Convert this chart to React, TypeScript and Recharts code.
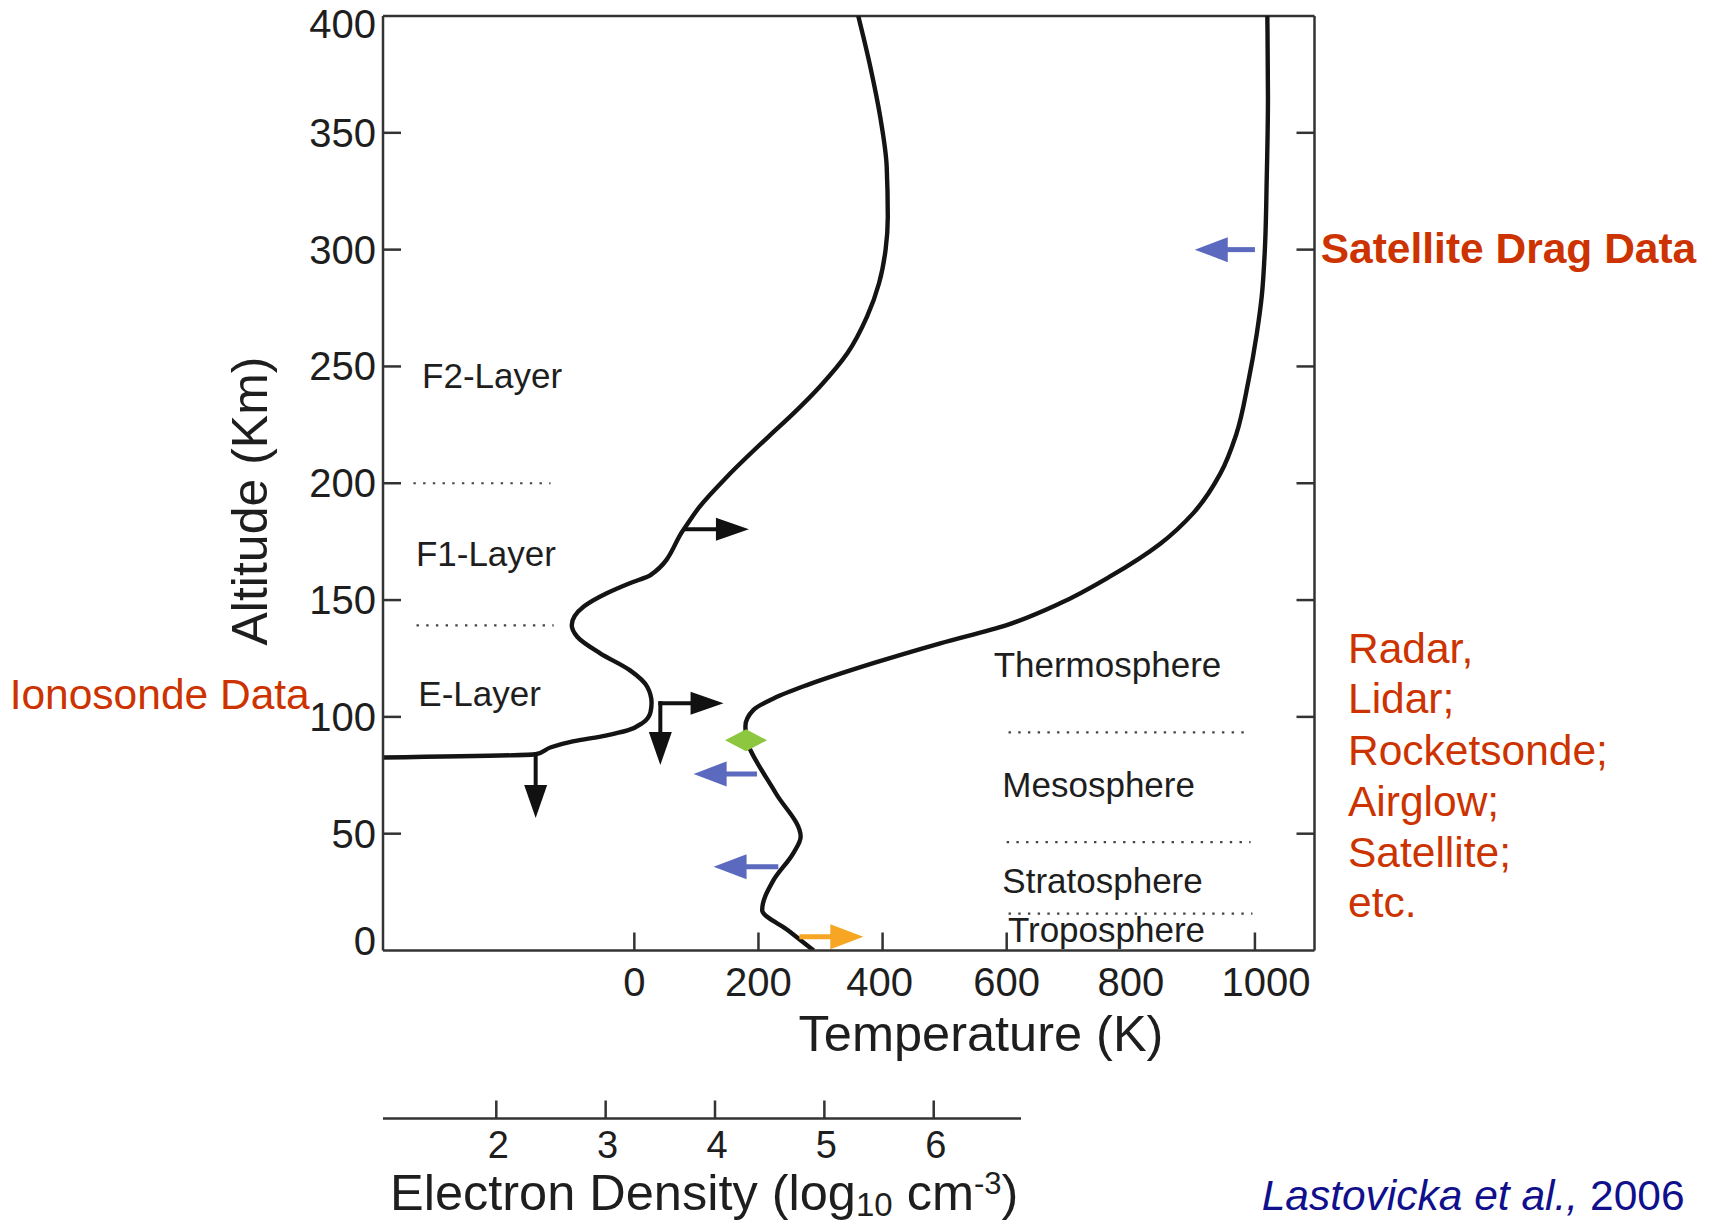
import React from 'react';
import { ComposedChart, Line, XAxis, YAxis, ReferenceLine, ReferenceDot } from 'recharts';

// ---- Temperature profile (K) vs altitude (km)
const temperatureK = [289, 248, 206, 224, 256, 268, 228, 187, 180, 179, 192, 225, 278, 385, 493, 600, 686, 766, 847, 900, 944, 970, 989, 1003, 1011, 1016, 1019, 1021, 1020];
const temperatureAltKm = [0, 8.6, 17.3, 30, 41.6, 48.7, 67.3, 85.8, 90, 96, 103, 108, 113.6, 123, 131.5, 139.3, 148.6, 160, 174, 187, 204, 221, 243, 264, 280, 300, 330, 365, 400];

// ---- Electron density profile (log10 cm^-3) vs altitude (km)
const densityLog = [0.964, 2.36, 2.5, 2.7, 3.0, 3.2, 3.34, 3.41, 3.42, 3.38, 3.22, 2.95, 2.74, 2.69, 2.8, 3.01, 3.22, 3.41, 3.71, 3.86, 4.11, 4.49, 4.72, 4.96, 5.21, 5.39, 5.5, 5.56, 5.58, 5.57, 5.51, 5.42, 5.31];
const densityAltKm = [82.6, 84.0, 87.0, 89.5, 92.0, 94.2, 97.5, 102, 106, 112.9, 120, 127.2, 134.3, 139.2, 147.2, 152.9, 157.2, 160.7, 180, 190, 202.8, 220, 230, 241.4, 255.6, 271.3, 285.6, 300, 314, 335.5, 357, 378.3, 400];

// ---- Axis ticks
const altitudeTicks = [0, 50, 100, 150, 200, 250, 300, 350, 400];
const rightTicks = [50, 100, 150, 200, 250, 300, 350];
const temperatureTicks = [0, 200, 400, 600, 800, 1000];
const densityTicks = [2, 3, 4, 5, 6];

// ---- Annotations (data coordinates)
const layerNames = ['F2-Layer', 'F1-Layer', 'E-Layer', 'Thermosphere', 'Mesosphere', 'Stratosphere', 'Troposphere'];
const layerNameT = [-342, -352, -348, 579, 593, 593, 602];
const layerNameAlt = [240.8, 164.7, 104.7, 117.0, 65.5, 24.5, 3.8];

const boundaryFromT = [-356, -351, 603, 600, 603];
const boundaryToT = [-135, -130, 993, 993, 996];
const boundaryAlt = [200, 139.2, 93.4, 46.4, 15.8];

// blue arrows (temperature axis): from T, to T, altitude
const blueFromT = [1000, 197.6, 232];
const blueToT = [903, 95.5, 127.7];
const blueAlt = [300, 75.6, 35.9];
// orange arrow
const orangeFromT = 266;
const orangeToT = 369;
const orangeAlt = 5.9;
// black arrows (density axis): [fromNe, fromAlt, toNe, toAlt]
const blackArrows = [
  [3.743, 180.3, 4.31, 180.3],
  [3.5, 105.8, 4.078, 105.8],
  [3.5, 105.8, 3.5, 79.4],
  [2.36, 84.0, 2.36, 56.7],
];
// mesopause marker
const mesopauseT = 180;
const mesopauseAlt = 90;

const techniqueLines = ['Radar,', 'Lidar;', 'Rocketsonde;', 'Airglow;', 'Satellite;', 'etc.'];
const techniqueAlt = [123.2, 101.5, 79.3, 57.5, 35.9, 14.3];
const techniqueT = 1150;

const thermoData = temperatureK.map((T, i) => ({ T, alt: temperatureAltKm[i] }));
const densityData = densityLog.map((ne, i) => ({ ne, alt: densityAltKm[i] }));

const FONT = '"Liberation Sans", Arial, Helvetica, sans-serif';
const AXIS = '#333333';
const CURVE = '#141414';
const TXT = '#1e1e1e';
const RED = '#cc3300';
const NAVY = '#10108c';
const BLUE = '#5b6abf';
const ORANGE = '#f6a623';
const GREEN = '#8dc63f';

const AltTick = (p: any) => {
  const { x, y, payload } = p;
  const v = payload.value;
  const shift = v === 0 ? -10 : v === 400 ? 8 : 0;
  return (
    <g>
      {v > 0 && v < 400 && <line x1={x} y1={y} x2={x + 18} y2={y} stroke={AXIS} strokeWidth={2.5} />}
      <text x={x - 7} y={y + 14 + shift} textAnchor="end" fontSize={40} fontFamily={FONT} fill={TXT}>{v}</text>
    </g>
  );
};

const RightTick = (p: any) => {
  const { x, y } = p;
  return <line x1={x} y1={y} x2={x - 18} y2={y} stroke={AXIS} strokeWidth={2.5} />;
};

const TempTick = (p: any) => {
  const { x, y, payload } = p;
  const dx = payload.value === 1000 ? 11 : payload.value === 400 ? -3 : 0;
  return (
    <g>
      {payload.value !== 800 && <line x1={x} y1={y} x2={x} y2={y - 18} stroke={AXIS} strokeWidth={2.5} />}
      <text x={x + dx} y={y + 45} textAnchor="middle" fontSize={40} fontFamily={FONT} fill={TXT}>{payload.value}</text>
    </g>
  );
};

const NeTick = (p: any) => {
  const { x, y, payload } = p;
  return (
    <g>
      <line x1={x} y1={y} x2={x} y2={y - 18} stroke={AXIS} strokeWidth={2.5} />
      <text x={x + 2} y={y + 39} textAnchor="middle" fontSize={38} fontFamily={FONT} fill={TXT}>{payload.value}</text>
    </g>
  );
};

const TempTitle = (p: any) => {
  const vb = p.viewBox || { x: 383, y: 950.5 };
  return (
    <text x={vb.x + 598} y={vb.y + 100} textAnchor="middle" fontSize={50.5} fontFamily={FONT} fill={TXT}>
      Temperature (K)
    </text>
  );
};

const AltTitle = (p: any) => {
  const vb = p.viewBox || { x: 0, y: 16 };
  const cx = vb.x + 267;
  const cy = vb.y + 485;
  return (
    <text x={cx} y={cy} transform={`rotate(-90 ${cx} ${cy})`} textAnchor="middle" fontSize={50} fontFamily={FONT} fill={TXT}>
      Altitude (Km)
    </text>
  );
};

const NeTitle = (p: any) => {
  const vb = p.viewBox || { x: 383, y: 1118.5 };
  return (
    <text x={vb.x + 7} y={vb.y + 91.5} fontSize={50.5} fontFamily={FONT} fill={TXT}>
      <tspan>Electron Density (log</tspan>
      <tspan fontSize={33} dy={6}>10</tspan>
      <tspan dy={-6}> cm</tspan>
      <tspan fontSize={31} dy={-16}>-3</tspan>
      <tspan dy={16}>)</tspan>
    </text>
  );
};

const arrowShape = (color: string, width: number, headLen: number, headW: number, cap: string) => (p: any) => {
  const { x1, y1, x2, y2 } = p;
  const dx = x2 - x1;
  const dy = y2 - y1;
  const L = Math.hypot(dx, dy) || 1;
  const ux = dx / L;
  const uy = dy / L;
  const bx = x2 - ux * headLen;
  const by = y2 - uy * headLen;
  const px = -uy;
  const py = ux;
  return (
    <g>
      <line x1={x1} y1={y1} x2={bx + ux * 2} y2={by + uy * 2} stroke={color} strokeWidth={width} strokeLinecap={cap as any} />
      <polygon
        points={`${x2},${y2} ${bx + (px * headW) / 2},${by + (py * headW) / 2} ${bx - (px * headW) / 2},${by - (py * headW) / 2}`}
        fill={color}
      />
    </g>
  );
};

const diamondShape = (p: any) => {
  const { cx, cy } = p;
  return <polygon points={`${cx - 21},${cy} ${cx},${cy - 11} ${cx + 21},${cy} ${cx},${cy + 11}`} fill={GREEN} />;
};

const textShape = (content: React.ReactNode, size: number, color: string, anchor: string, weight: string | number = 'normal') => (p: any) => (
  <text x={p.cx} y={p.cy} fontSize={size} fontFamily={FONT} fill={color} textAnchor={anchor as any} fontWeight={weight}>
    {content}
  </text>
);

export default function App() {
  return (
    <div style={{ position: 'absolute', left: 0, top: 0, width: 1719, height: 1224, background: '#fff' }}>
      <ComposedChart width={1719} height={1224} margin={{ top: 16, right: 403.5, left: 0, bottom: 5.5 }}>
        <XAxis
          xAxisId="T"
          dataKey="T"
          type="number"
          domain={[-405, 1096]}
          ticks={temperatureTicks}
          interval={0}
          allowDataOverflow
          height={168}
          axisLine={{ stroke: AXIS, strokeWidth: 2.5 }}
          tickLine={false}
          tickSize={0}
          tickMargin={0}
          tick={TempTick}
          label={(p: any) => <TempTitle {...p} />}
        />
        <XAxis
          xAxisId="ne"
          dataKey="ne"
          type="number"
          domain={[0.964, 9.482]}
          ticks={densityTicks}
          interval={0}
          allowDataOverflow
          height={100}
          axisLine={{ stroke: AXIS, strokeWidth: 2.5, strokeDasharray: '638 4000' }}
          tickLine={false}
          tickSize={0}
          tickMargin={0}
          tick={NeTick}
          label={(p: any) => <NeTitle {...p} />}
        />
        <YAxis
          type="number"
          domain={[0, 400]}
          ticks={altitudeTicks}
          interval={0}
          allowDataOverflow
          width={383}
          axisLine={{ stroke: AXIS, strokeWidth: 2.5 }}
          tickLine={false}
          tickSize={0}
          tickMargin={0}
          tick={AltTick}
          label={(p: any) => <AltTitle {...p} />}
        />
        <YAxis
          yAxisId="R"
          orientation="right"
          type="number"
          domain={[0, 400]}
          ticks={rightTicks}
          interval={0}
          allowDataOverflow
          width={1}
          axisLine={{ stroke: AXIS, strokeWidth: 2.5 }}
          tickLine={false}
          tickSize={0}
          tickMargin={0}
          tick={RightTick}
        />

        <ReferenceLine xAxisId="T" y={400} stroke={AXIS} strokeWidth={2.5} />

        {boundaryAlt.map((alt, i) => (
          <ReferenceLine
            key={`b${i}`}
            xAxisId="T"
            segment={[{ x: boundaryFromT[i], y: alt }, { x: boundaryToT[i], y: alt }]}
            stroke="#444"
            strokeWidth={2.2}
            strokeDasharray="2.4 7.3"
          />
        ))}

        <Line xAxisId="T" data={thermoData} dataKey="alt" type="monotoneY" stroke={CURVE} strokeWidth={4.4} dot={false} activeDot={false} isAnimationActive={false} />
        <Line xAxisId="ne" data={densityData} dataKey="alt" type="monotoneY" stroke={CURVE} strokeWidth={4.4} dot={false} activeDot={false} isAnimationActive={false} />

        {blackArrows.map((a, i) => (
          <ReferenceLine
            key={`k${i}`}
            xAxisId="ne"
            segment={[{ x: a[0], y: a[1] }, { x: a[2], y: a[3] }]}
            shape={arrowShape('#111', 4, 33, 23, 'square')}
          />
        ))}
        {blueAlt.map((alt, i) => (
          <ReferenceLine
            key={`u${i}`}
            xAxisId="T"
            segment={[{ x: blueFromT[i], y: alt }, { x: blueToT[i], y: alt }]}
            shape={arrowShape(BLUE, 5, 33, 25, 'butt')}
          />
        ))}
        <ReferenceLine
          xAxisId="T"
          segment={[{ x: orangeFromT, y: orangeAlt }, { x: orangeToT, y: orangeAlt }]}
          shape={arrowShape(ORANGE, 5, 33, 25, 'butt')}
        />
        <ReferenceDot xAxisId="T" x={mesopauseT} y={mesopauseAlt} r={0} shape={diamondShape} />

        {layerNames.map((name, i) => (
          <ReferenceDot
            key={`l${i}`}
            xAxisId="T"
            x={layerNameT[i]}
            y={layerNameAlt[i]}
            r={0}
            ifOverflow="visible"
            shape={textShape(name, 35, TXT, 'start')}
          />
        ))}

        <ReferenceDot xAxisId="T" x={1106} y={294.3} r={0} ifOverflow="visible" shape={textShape('Satellite Drag Data', 42.5, RED, 'start', 'bold')} />
        <ReferenceDot xAxisId="T" x={-523} y={103.3} r={0} ifOverflow="visible" shape={textShape('Ionosonde Data', 42.5, RED, 'end')} />
        {techniqueLines.map((t, i) => (
          <ReferenceDot
            key={`t${i}`}
            xAxisId="T"
            x={techniqueT}
            y={techniqueAlt[i]}
            r={0}
            ifOverflow="visible"
            shape={textShape(t, 42.5, RED, 'start')}
          />
        ))}
        <ReferenceDot
          xAxisId="T"
          x={1010.8}
          y={-111.1}
          r={0}
          ifOverflow="visible"
          shape={textShape(
            <>
              <tspan fontStyle="italic">Lastovicka et al.,</tspan>
              <tspan> 2006</tspan>
            </>,
            42.5,
            NAVY,
            'start'
          )}
        />
      </ComposedChart>
    </div>
  );
}
